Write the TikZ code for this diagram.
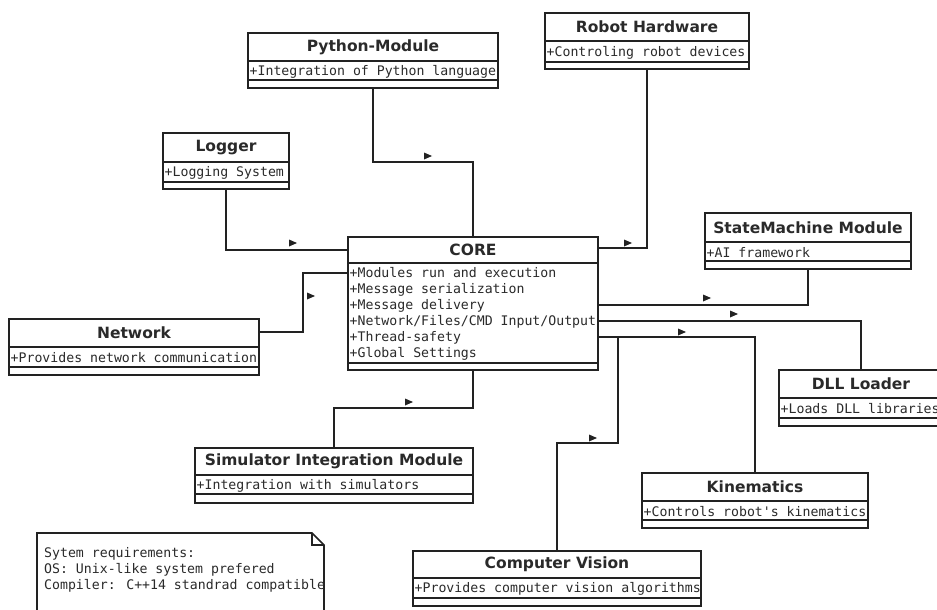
\documentclass[tikz,border=0pt]{standalone}
\usepackage{fontspec}
\newfontfamily\ttlfont{DejaVu Sans}
\newfontfamily\mnofont{DejaVu Sans Mono}
\definecolor{ln}{HTML}{222222}
\definecolor{tx}{HTML}{2a2a2a}
\tikzset{
  cbox/.style={draw=ln, line width=1.6pt, fill=white, inner sep=0pt, outer sep=0pt},
  cline/.style={draw=ln, line width=1.4pt},
  conn/.style={draw=ln, line width=1.6pt},
  ctitle/.style={font=\ttlfont\bfseries\fontsize{15.5}{18}\selectfont, text=tx, inner sep=0pt},
  cattr/.style={font=\mnofont\fontsize{13.2}{16}\selectfont, text=tx, inner sep=0pt, anchor=west, align=left}
}
\newcommand\umlclass[9]{%
  \pgfmathsetmacro\cw{#4-#2}\pgfmathsetmacro\ch{#7-#3}%
  \pgfmathsetmacro\cx{(#2+#4)/2}\pgfmathsetmacro\ty{(#3+#5)/2}%
  \pgfmathsetmacro\ay{(#5+#6)/2+1}\pgfmathsetmacro\ax{#2+1.5}%
  \node[cbox, minimum width=\cw pt, minimum height=\ch pt, anchor=north west] (#1) at (#2,#3) {};
  \draw[cline] (#2,#5) -- (#4,#5) (#2,#6) -- (#4,#6);
  \node[ctitle] (#1-t) at (\cx,\ty) {#8};
  \begin{scope}
    \clip (#2,#5) rectangle (#4,#6);
    \node[cattr] (#1-a) at (\ax,\ay) {#9};
  \end{scope}}
\newcommand\dirmk[2]{\fill[ln] (#1,#2) ++(-4,-3.5) -- ++(8,3.5) -- ++(-8,3.5) -- cycle;}
\begin{document}
\begin{tikzpicture}[x=1pt,y=-1pt]
\useasboundingbox (0,0) rectangle (937,610);
\fill[white] (0,0) rectangle (937,610);

\umlclass{py}{248}{33}{498}{61}{80}{88}{Python-Module}{+Integration of Python language}
\umlclass{rh}{545}{13}{749}{41}{62}{69}{Robot Hardware}{+Controling robot devices}
\umlclass{lg}{163}{133}{289}{162}{182}{189}{Logger}{+Logging System}
\umlclass{nw}{9}{319}{259}{347}{367}{375}{Network}{+Provides network communication}
\umlclass{core}{348}{237}{598}{263}{363}{370}{CORE}{+Modules run and execution\\+Message serialization\\+Message delivery\\+Network/Files/CMD Input/Output\\+Thread-safety\\+Global Settings}
\umlclass{sm}{705}{213}{911}{242}{261}{269}{StateMachine Module}{+AI framework}
\umlclass{dll}{779}{370}{943}{398}{418}{426}{DLL Loader}{+Loads DLL libraries}
\umlclass{sim}{195}{448}{473}{475}{494}{503}{Simulator Integration Module}{+Integration with simulators}
\umlclass{kin}{642}{473}{868}{501}{520}{528}{Kinematics}{+Controls robot's kinematics}
\umlclass{cv}{413}{551}{701}{578}{598}{606}{Computer Vision}{+Provides computer vision algorithms}

% connectors
\draw[conn] (py.south) |- (core.north |- 0,162) -- (core.north);
\draw[conn] (rh.south) |- (core.east |- 0,248);
\draw[conn] (lg.south) |- (core.west |- 0,250);
\coordinate (nwbend) at (303,273);
\draw[conn] (nw.east |- 0,332) -| (nwbend) -- (core.west |- nwbend);
\draw[conn] (sm.south) |- (core.east |- 0,305);
\draw[conn] (dll.north) |- (core.east |- 0,321);
\draw[conn] (kin.north) |- (core.east |- 0,337);
\coordinate (cvbend) at (618,443);
\draw[conn] (cv.north) |- (cvbend) |- (core.east |- 0,337);
\draw[conn] (sim.north) |- (core.south |- 0,408) -- (core.south);

% direction markers
\dirmk{428}{156}
\dirmk{628}{243}
\dirmk{293}{243}
\dirmk{311}{296}
\dirmk{707}{298}
\dirmk{734}{314}
\dirmk{682}{332}
\dirmk{593}{438}
\dirmk{409}{402}

% note
\draw[conn, fill=white] (37,625) -- (37,533) -- (312,533) -- (324,545) -- (324,625);
\draw[cline] (312,533) -- (312,545) -- (324,545);
\node[cattr, anchor=north west] (note) at (44,547) {Sytem requirements:\\OS: Unix-like system prefered\\Compiler: C++14 standrad compatible};
\end{tikzpicture}
\end{document}
